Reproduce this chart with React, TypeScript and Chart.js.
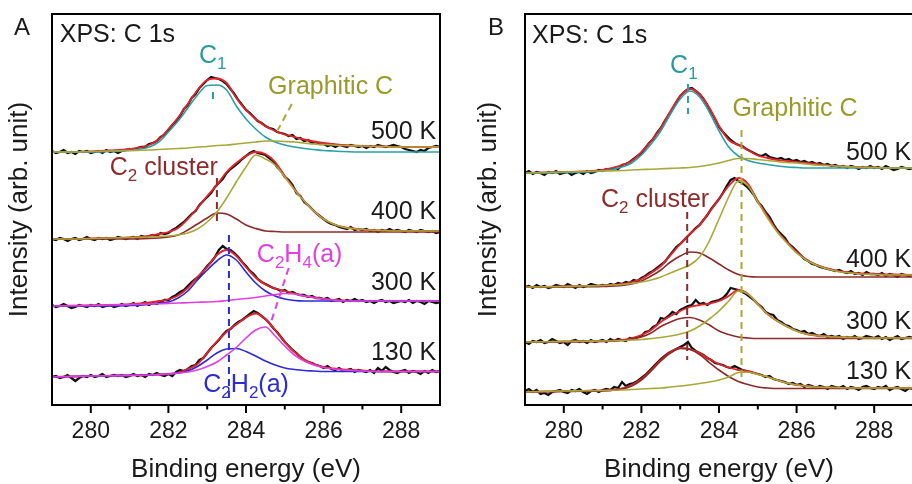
import React, { useEffect, useRef } from "react";
import { Chart, registerables } from "chart.js";

Chart.register(...registerables);

const FONT = '"Liberation Sans", Arial, Helvetica, sans-serif';
const TEXT = "#1a1a1a";
const BLACK = "#111111";
const RED = "#e8222a";
const TEAL = "#2aa0a6";
const TEAL_TEXT = "#2a9a9c";
const OLIVE = "#a8a838";
const OLIVE_TEXT = "#9a9a2c";
const BROWN = "#8e2a2a";
const MAGENTA = "#e23fe2";
const BLUE = "#2b2bd8";

const X_MIN = 279;
const X_MAX = 289;
const Y_MIN = 0;
const Y_MAX = 391;
const X_TITLE = "Binding energy (eV)";
const Y_TITLE = "Intensity (arb. unit)";

// energy grid for fitted curves
const FIT_E = [279, 279.5, 280, 280.5, 281, 281.5, 281.75, 282, 282.25, 282.5, 282.75, 283, 283.25, 283.5, 283.75, 284, 284.25, 284.5, 284.75, 285, 285.25, 285.5, 285.75, 286, 286.25, 286.5, 287, 287.5, 288, 288.5, 289];

// energy grid for measured spectra
const DATA_E = [
  279, 279.1, 279.2, 279.3, 279.4, 279.5, 279.6, 279.7, 279.8, 279.9,
  280, 280.1, 280.2, 280.3, 280.4, 280.5, 280.6, 280.7, 280.8, 280.9,
  281, 281.1, 281.2, 281.3, 281.4, 281.5, 281.6, 281.7, 281.8, 281.9,
  282, 282.1, 282.2, 282.3, 282.4, 282.5, 282.6, 282.7, 282.8, 282.9,
  283, 283.1, 283.2, 283.3, 283.4, 283.5, 283.6, 283.7, 283.8, 283.9,
  284, 284.1, 284.2, 284.3, 284.4, 284.5, 284.6, 284.7, 284.8, 284.9,
  285, 285.1, 285.2, 285.3, 285.4, 285.5, 285.6, 285.7, 285.8, 285.9,
  286, 286.1, 286.2, 286.3, 286.4, 286.5, 286.6, 286.7, 286.8, 286.9,
  287, 287.1, 287.2, 287.3, 287.4, 287.5, 287.6, 287.7, 287.8, 287.9,
  288, 288.1, 288.2, 288.3, 288.4, 288.5, 288.6, 288.7, 288.8, 288.9,
  289,
];

// stacking offsets: 500 K, 400 K, 300 K, 130 K
const A_OFFSETS = [253, 166, 99, 28];
const B_OFFSETS = [232, 118, 63, 13];

// ---------- Panel A ----------
const A500_C1 = [0, 0, 0, 0.5, 1.5, 5, 10, 20, 31, 44, 57, 66.5, 67, 62, 46, 33, 23, 15, 10, 7, 5, 3.5, 2.5, 1.5, 1, 0.5, 0, 0, 0, 0, 0];
const A500_GR = [0, 0, 0.5, 1, 1.5, 2, 2.5, 3, 3.5, 4, 5, 5.5, 6.5, 7, 8, 9, 10, 11, 11, 10.5, 10, 9, 8, 7.5, 7, 6.5, 6, 5.5, 5, 5, 5];
const A500_FIT = [0, 0, 0.5, 1.5, 3, 7, 12.5, 23, 34.5, 48, 62, 72, 73.5, 69, 54, 42, 33, 26, 21, 17.5, 15, 12.5, 10.5, 9, 8, 7, 6, 5.5, 5, 5, 5];
const A500_DATA = [
  1, -1, 0, 2, -1, 0, -2, 1, 0, 1,
  -1, 0, 1, -1, 2, 0, 1, -1, 1, 2,
  3, 2, 4, 5, 5, 8, 9, 11, 15, 17,
  22, 27, 31, 36, 43, 47, 54, 58, 64, 68,
  72, 75, 74, 73, 71, 68, 63, 58, 52, 47,
  42, 39, 35, 31, 29, 26, 24, 23, 20, 19,
  18, 16, 17, 13, 14, 11, 12, 9, 10, 8,
  8, 6, 7, 5, 7, 6, 5, 7, 6, 5,
  6, 4, 6, 5, 7, 6, 5, 6, 7, 6,
  5, 3, 2, 1, 0, 2, 1, 4, 5, 6,
  5,
];

const A400_GR = [0, 0, 0.5, 1, 1.5, 2, 2.5, 3, 4, 6, 10, 17, 27, 41, 57, 72, 84, 80, 74, 62, 49, 38, 28, 20, 15, 12, 9.5, 8.5, 8, 8, 8];
const A400_C2 = [0, 0, 0, 0, 0, 0.5, 1, 2, 4, 9, 15, 21, 26, 25, 20, 14, 10.5, 8, 7.5, 7, 7, 7, 7, 7, 7, 7, 7, 7, 7, 7, 7];
const A400_FIT = [0, 0, 0.5, 1, 1.5, 3, 5, 7, 11, 20, 31, 43, 54, 67, 76, 83, 87, 85, 77, 63, 50, 38, 28, 20, 15, 12, 9.5, 8.5, 8, 8, 8];
const A400_DATA = [
  0, -1, 1, 0, -2, 0, 1, -1, 0, 2,
  0, -1, 1, 0, 1, -1, 0, 2, 1, 0,
  1, 2, 0, 3, 2, 3, 4, 3, 6, 5,
  6, 9, 11, 14, 17, 21, 25, 28, 34, 38,
  42, 46, 52, 56, 60, 66, 70, 73, 76, 80,
  83, 86, 88, 86, 85, 84, 81, 78, 72, 68,
  62, 59, 54, 46, 43, 37, 34, 30, 26, 23,
  20, 17, 15, 14, 12, 11, 10, 12, 9, 10,
  9, 10, 8, 9, 7, 9, 8, 10, 8, 9,
  8, 7, 9, 8, 7, 9, 8, 7, 8, 6,
  7,
];

const A300_C2H2 = [0, 0, 0, 0, 0.5, 1.5, 3, 4, 8, 15, 26, 36, 45, 51, 46, 34, 23, 15, 10, 7, 5.5, 5, 5, 5, 5, 5, 5, 5, 5, 5, 5];
const A300_C2H4 = [0, 0.3, 0.6, 1, 1.4, 2, 2.3, 2.6, 3, 3.3, 3.7, 4, 4.5, 5.5, 6.5, 7.5, 8.5, 10, 11.5, 12.5, 12, 10, 8.5, 7, 6, 5, 5, 5, 5, 5, 5];
const A300_FIT = [0, 0.3, 0.6, 1, 1.8, 3.5, 5, 6.5, 10.5, 18, 29, 39, 51, 56, 50, 39, 28.5, 21.5, 17.5, 15, 12.5, 10, 8.5, 7, 6, 5.5, 5, 5, 5, 5, 5];
const A300_DATA = [
  1, -1, 0, 2, 0, -2, -1, 1, 0, -1,
  1, 0, 2, -1, 0, 1, -1, 0, 2, 0,
  1, 3, 0, 2, 4, 1, 3, 2, 4, 6,
  6, 9, 11, 14, 16, 20, 24, 27, 30, 35,
  40, 44, 49, 56, 60, 57, 56, 53, 49, 44,
  40, 35, 32, 27, 24, 22, 20, 18, 17, 15,
  16, 13, 14, 12, 11, 11, 9, 10, 8, 8,
  7, 8, 5, 6, 7, 4, 6, 5, 7, 5,
  6, 4, 5, 3, 5, 6, 4, 5, 3, 4,
  5, 4, 6, 3, 5, 4, 2, 5, 4, 3,
  4,
];

const A130_C2H2 = [0, 0.5, 1, 1.3, 1.6, 2, 2.5, 3, 4, 6, 10.5, 17, 24, 28, 28.5, 25.5, 21, 16, 12, 9, 7.5, 6.5, 6, 5.5, 5.5, 5.5, 5.5, 5.5, 5.5, 5.5, 5.5];
const A130_C2H4 = [0, 0.5, 1, 1.3, 1.6, 2, 2.5, 3, 4, 5, 7, 10.5, 15, 22, 29.5, 39, 47, 50, 41, 31, 22, 16, 12, 9.5, 8, 7, 6, 5.5, 5.5, 5.5, 5.5];
const A130_FIT = [0, 0.5, 1, 1.3, 1.6, 2, 2.5, 3, 4.5, 8, 13, 24, 35.5, 45, 52.5, 59.5, 63.5, 58, 47, 35, 25, 17.5, 13, 10, 8.5, 7.5, 6.5, 5.5, 5.5, 5.5, 5.5];
const A130_DATA = [
  0, 1, -1, 0, 2, -1, -4, -1, 1, 0,
  2, 0, 1, 3, 0, 1, 2, 1, 2, 0,
  1, 3, 1, 2, 0, 3, 2, 4, 2, 1,
  3, 1, 5, 7, 6, 8, 11, 12, 17, 19,
  24, 29, 33, 37, 42, 46, 48, 52, 55, 57,
  60, 63, 66, 64, 61, 58, 54, 49, 45, 40,
  35, 31, 27, 24, 20, 17, 15, 14, 12, 11,
  9, 11, 8, 7, 9, 6, 7, 8, 5, 7,
  6, 5, 7, 4, 9, 6, 10, 7, 5, 4,
  6, 7, 4, 6, 5, 3, 6, 4, 7, 5,
  6,
];

// ---------- Panel B ----------
const B500_C1 = [0, 0, 0.5, 1, 2, 6, 10, 18, 29, 42, 59, 74, 82, 76, 61, 42, 26, 17, 12.5, 10, 8.5, 7, 6, 5.5, 5, 5, 5, 5, 5, 5, 5];
const B500_GR = [0, 0.5, 1, 1.5, 2, 2.5, 3, 3.5, 3.8, 4.2, 4.6, 5, 5.5, 6.5, 8, 10, 12.5, 14.5, 14.5, 13.5, 12.5, 11.5, 10.5, 10, 9, 8, 7, 6, 5.5, 5, 5];
const B500_FIT = [0, 0.5, 1, 1.5, 3, 8, 12, 21, 32, 45, 62, 77, 84, 79, 65, 47, 33, 28, 23, 17.5, 15, 13, 12, 11, 10, 9, 7, 6, 5.5, 5, 5];
const B500_DATA = [
  0, 2, -1, 1, 0, -2, 1, 0, 2, -1,
  0, 1, -2, 0, 1, -1, 2, 0, 1, 3,
  2, 4, 3, 5, 4, 8, 9, 11, 14, 17,
  20, 25, 30, 34, 40, 45, 52, 58, 64, 71,
  77, 81, 84, 85, 82, 79, 74, 68, 61, 54,
  46, 41, 37, 33, 30, 28, 27, 24, 22, 20,
  18, 17, 19, 16, 15, 14, 15, 13, 14, 12,
  13, 11, 12, 10, 11, 9, 10, 8, 9, 7,
  8, 6, 7, 5, 7, 6, 4, 6, 5, 7,
  5, 6, 4, 7, 5, 3, 4, 6, 5, 4,
  5,
];

const B400_GR = [0, 0.2, 0.5, 1, 1.5, 2.5, 3.5, 5, 7, 10, 14, 18, 22, 30, 46, 68, 90, 106, 101, 85, 69, 55, 44, 34, 27, 22, 16, 13.5, 12.5, 12, 12];
const B400_C2 = [0, 0, 0, 0.2, 0.5, 1.5, 3, 6, 11, 17, 25, 31, 35, 34, 29, 23, 17, 12.5, 10.5, 10, 10, 10, 10, 10, 10, 10, 10, 10, 10, 10, 10];
const B400_FIT = [0, 0.2, 0.5, 1, 1.5, 3, 5, 8, 14, 21, 32, 43, 53, 62, 75, 88, 101, 109, 103, 86, 71, 56, 45, 35, 27.5, 22.5, 16.5, 14, 13, 12.5, 12];
const B400_DATA = [
  0, 1, -1, 2, 0, 1, -1, 0, 2, 1,
  0, 3, 1, -1, 2, 0, 1, 3, 2, 1,
  2, 1, 3, 2, 4, 3, 5, 4, 7, 6,
  9, 11, 14, 16, 19, 22, 25, 30, 35, 40,
  43, 47, 51, 55, 59, 62, 67, 72, 78, 83,
  88, 94, 101, 107, 109, 106, 104, 101, 97, 92,
  85, 81, 75, 70, 63, 57, 53, 49, 43, 40,
  36, 32, 28, 26, 23, 22, 20, 19, 18, 17,
  16, 17, 15, 14, 16, 13, 14, 12, 15, 13,
  13, 12, 14, 11, 13, 12, 10, 13, 12, 11,
  12,
];

const B300_GR = [0, 0.2, 0.5, 0.8, 1, 1.5, 2, 2.5, 3.5, 4.5, 6, 8, 11, 16, 23, 31, 41, 51, 48, 38, 28, 21, 15.5, 11, 8, 6.5, 5, 4.5, 4, 4, 4];
const B300_C2 = [0, 0, 0, 0.2, 0.5, 1.5, 3, 5, 9, 15.5, 20, 23.5, 24.5, 22, 17, 11, 7.5, 5, 4, 3.5, 3.5, 3.5, 3.5, 3.5, 3.5, 3.5, 3.5, 3.5, 3.5, 3.5, 3.5];
const B300_FIT = [0, 0.2, 0.5, 0.8, 1, 2, 4, 7, 12, 20, 26, 31, 35, 37, 38.5, 41, 46, 52, 48, 38, 28, 21, 15.5, 11, 8, 6.5, 5, 4.5, 4, 4, 4];
const B300_DATA = [
  0, -2, 1, 0, 2, -1, 0, 3, 1, -1,
  0, -3, 1, 2, 0, 1, -1, 2, 0, 1,
  2, 0, 3, 1, 3, 2, 1, 4, 3, 5,
  6, 10, 11, 15, 17, 24, 23, 26, 30, 28,
  32, 34, 36, 37, 42, 38, 39, 37, 40, 41,
  42, 44, 48, 54, 53, 52, 50, 48, 45, 42,
  38, 35, 30, 28, 27, 22, 20, 17, 16, 13,
  12, 10, 11, 8, 9, 7, 6, 8, 5, 6,
  5, 6, 3, 5, 4, 6, 3, 4, 6, 5,
  4, 6, 3, 5, 2, 4, 6, 3, 4, 5,
  4,
];

const B130_GR = [0, 0.5, 1, 1.2, 1.5, 2, 2.5, 3, 3.5, 4, 5, 6, 7, 8.5, 10, 12, 15, 19.5, 20, 17.5, 15, 12, 9, 7, 6, 5, 4.5, 4, 4, 4, 4];
const B130_C2 = [0, 0.2, 0.5, 0.8, 1, 3, 6, 12, 21, 31, 39, 43.5, 42.5, 37.5, 29.5, 22, 15.5, 10.5, 7.5, 5, 4, 3.5, 3.5, 3.5, 3.5, 3.5, 3.5, 3.5, 3.5, 3.5, 3.5];
const B130_FIT = [0, 0.5, 1, 1.2, 1.5, 3.5, 7, 13, 22, 32, 40, 44, 43, 39, 33, 28, 24.5, 22, 21, 18, 15, 12, 9, 7, 6, 5, 4.5, 4, 4, 4, 4];
const B130_DATA = [
  1, 3, 0, 2, -2, -1, -3, 0, 1, 2,
  0, -1, 2, 1, 3, 0, -2, 1, 2, 0,
  2, 3, 2, 5, 4, 10, 6, 8, 9, 11,
  14, 17, 21, 25, 29, 33, 36, 39, 41, 43,
  45, 47, 50, 44, 41, 39, 37, 34, 32, 29,
  28, 27, 25, 24, 26, 24, 22, 21, 20, 19,
  18, 17, 15, 16, 13, 12, 11, 10, 8, 9,
  7, 8, 5, 7, 6, 4, 6, 5, 3, 6,
  5, 4, 6, 3, 5, 4, 2, 5, 6, 4,
  3, 5, 4, 6, 2, 4, 5, 3, 1, 4,
  3,
];

// ---------- annotations (data coordinates) ----------
const A_MARKERS = [
  { x: [283.15, 283.15], y: [313, 304], color: TEAL },
  { x: [285.18, 284.82], y: [301, 275], color: OLIVE },
  { x: [283.25, 283.25], y: [227, 182], color: BROWN },
  { x: [283.56, 283.56], y: [170, 5], color: BLUE },
  { x: [285.1, 284.62], y: [137, 80], color: MAGENTA },
];
const B_MARKERS = [
  { x: [283.2, 283.2], y: [321, 291], color: TEAL },
  { x: [284.58, 284.58], y: [275, 25], color: OLIVE },
  { x: [283.18, 283.18], y: [193, 45], color: BROWN },
];

const A_LABELS = [
  { t: "XPS: C 1s", x: 279.2, y: 370, color: TEXT, align: "left" },
  { t: "C_1", x: 282.79, y: 349, color: TEAL_TEXT, align: "left" },
  { t: "Graphitic C", x: 284.57, y: 318, color: OLIVE_TEXT, align: "left" },
  { t: "500 K", x: 287.22, y: 273, color: TEXT, align: "left" },
  { t: "C_2 cluster", x: 280.49, y: 237, color: BROWN, align: "left" },
  { t: "400 K", x: 287.22, y: 193, color: TEXT, align: "left" },
  { t: "C_2H_4(a)", x: 284.28, y: 150, color: MAGENTA, align: "left" },
  { t: "300 K", x: 287.22, y: 122, color: TEXT, align: "left" },
  { t: "C_2H_2(a)", x: 282.9, y: 20, color: BLUE, align: "left" },
  { t: "130 K", x: 287.22, y: 52, color: TEXT, align: "left" },
];
const B_LABELS = [
  { t: "XPS: C 1s", x: 279.18, y: 369, color: TEXT, align: "left" },
  { t: "C_1", x: 282.74, y: 339, color: TEAL_TEXT, align: "left" },
  { t: "Graphitic C", x: 284.35, y: 296, color: OLIVE_TEXT, align: "left" },
  { t: "500 K", x: 287.27, y: 252, color: TEXT, align: "left" },
  { t: "C_2 cluster", x: 280.96, y: 205, color: BROWN, align: "left" },
  { t: "400 K", x: 287.27, y: 145, color: TEXT, align: "left" },
  { t: "300 K", x: 287.27, y: 83, color: TEXT, align: "left" },
  { t: "130 K", x: 287.27, y: 33, color: TEXT, align: "left" },
];

const LABEL_SIZE = 25;
const TITLE_SIZE = 26;
const TICK_SIZE = 23;

const PANEL_A = {
  letter: "A",
  letterX: 22,
  width: 456,
  yWidth: 52,
  padRight: 16,
  titlePad: 7,
  spectra: [
    { off: A_OFFSETS[0], data: A500_DATA, fit: A500_FIT, comps: [{ ys: A500_GR, color: OLIVE }, { ys: A500_C1, color: TEAL }] },
    { off: A_OFFSETS[1], data: A400_DATA, fit: A400_FIT, comps: [{ ys: A400_GR, color: OLIVE }, { ys: A400_C2, color: BROWN }] },
    { off: A_OFFSETS[2], data: A300_DATA, fit: A300_FIT, comps: [{ ys: A300_C2H4, color: MAGENTA }, { ys: A300_C2H2, color: BLUE }] },
    { off: A_OFFSETS[3], data: A130_DATA, fit: A130_FIT, comps: [{ ys: A130_C2H4, color: MAGENTA }, { ys: A130_C2H2, color: BLUE }] },
  ],
  markers: A_MARKERS,
  labels: A_LABELS,
};

const PANEL_B = {
  letter: "B",
  letterX: 40,
  width: 470,
  yWidth: 69,
  padRight: 13,
  titlePad: 20,
  spectra: [
    { off: B_OFFSETS[0], data: B500_DATA, fit: B500_FIT, comps: [{ ys: B500_GR, color: OLIVE }, { ys: B500_C1, color: TEAL }] },
    { off: B_OFFSETS[1], data: B400_DATA, fit: B400_FIT, comps: [{ ys: B400_GR, color: OLIVE }, { ys: B400_C2, color: BROWN }] },
    { off: B_OFFSETS[2], data: B300_DATA, fit: B300_FIT, comps: [{ ys: B300_GR, color: OLIVE }, { ys: B300_C2, color: BROWN }] },
    { off: B_OFFSETS[3], data: B130_DATA, fit: B130_FIT, comps: [{ ys: B130_GR, color: OLIVE }, { ys: B130_C2, color: BROWN }] },
  ],
  markers: B_MARKERS,
  labels: B_LABELS,
};

function pts(xs: number[], ys: number[], off: number) {
  return xs.map((x, i) => ({ x, y: ys[i] + off }));
}

function drawRich(ctx: CanvasRenderingContext2D, text: string, x: number, y: number, align: string, size: number, color: string) {
  const segs: { s: string; sub: boolean }[] = [];
  for (let i = 0; i < text.length; i++) {
    if (text[i] === "_" && i + 1 < text.length) {
      segs.push({ s: text[i + 1], sub: true });
      i++;
    } else {
      const last = segs[segs.length - 1];
      if (last && !last.sub) last.s += text[i];
      else segs.push({ s: text[i], sub: false });
    }
  }
  const subSize = Math.round(size * 0.66);
  let w = 0;
  for (const g of segs) {
    ctx.font = `${g.sub ? subSize : size}px ${FONT}`;
    w += ctx.measureText(g.s).width;
  }
  let cx = align === "right" ? x - w : align === "center" ? x - w / 2 : x;
  ctx.fillStyle = color;
  ctx.textBaseline = "middle";
  ctx.textAlign = "left";
  for (const g of segs) {
    ctx.font = `${g.sub ? subSize : size}px ${FONT}`;
    ctx.fillText(g.s, cx, g.sub ? y + size * 0.33 : y);
    cx += ctx.measureText(g.s).width;
  }
}

function overlay(panel: any) {
  return {
    id: "overlay",
    afterDraw(chart: any) {
      const { ctx, chartArea: ca, scales } = chart;
      const xs = scales.x;
      const ys = scales.y;
      ctx.save();
      ctx.strokeStyle = "#000";
      ctx.lineWidth = 2;
      ctx.strokeRect(ca.left, ca.top, ca.right - ca.left, ca.bottom - ca.top);
      for (const t of xs.ticks) {
        const v = t.value;
        if (v <= xs.min || v >= xs.max) continue;
        const px = xs.getPixelForValue(v);
        const len = v % 2 === 0 ? 8 : 4.5;
        ctx.beginPath();
        ctx.moveTo(px, ca.bottom);
        ctx.lineTo(px, ca.bottom + len);
        ctx.stroke();
      }
      for (const l of panel.labels) {
        drawRich(ctx, l.t, xs.getPixelForValue(l.x), ys.getPixelForValue(l.y), l.align, LABEL_SIZE, l.color);
      }
      drawRich(ctx, panel.letter, panel.letterX, 28, "center", 24, TEXT);
      ctx.restore();
    },
  };
}

function buildConfig(panel: any): any {
  const datasets: any[] = [];
  for (const s of panel.spectra) {
    datasets.push({
      data: pts(DATA_E, s.data, s.off),
      borderColor: BLACK,
      borderWidth: 2.3,
      pointRadius: 0,
      tension: 0,
      order: 3,
    });
    datasets.push({
      data: pts(FIT_E, s.fit, s.off),
      borderColor: RED,
      borderWidth: 1.8,
      pointRadius: 0,
      cubicInterpolationMode: "monotone",
      order: 2,
    });
    for (const c of s.comps) {
      datasets.push({
        data: pts(FIT_E, c.ys, s.off),
        borderColor: c.color,
        borderWidth: 1.6,
        pointRadius: 0,
        cubicInterpolationMode: "monotone",
        order: 1,
      });
    }
  }
  for (const m of panel.markers) {
    datasets.push({
      data: [{ x: m.x[0], y: m.y[0] }, { x: m.x[1], y: m.y[1] }],
      borderColor: m.color,
      borderWidth: 2,
      borderDash: [7, 5],
      pointRadius: 0,
      order: 0,
    });
  }
  return {
    type: "line",
    data: { datasets },
    options: {
      responsive: false,
      animation: false,
      events: [],
      layout: { padding: { left: 0, top: 14, right: panel.padRight, bottom: 0 } },
      plugins: { legend: { display: false }, tooltip: { enabled: false } },
      scales: {
        x: {
          type: "linear",
          min: X_MIN,
          max: X_MAX,
          afterFit: (s: any) => {
            s.height = 79;
          },
          border: { display: true, color: "#000", width: 2 },
          grid: { display: false, drawTicks: false },
          ticks: {
            stepSize: 1,
            autoSkip: false,
            maxRotation: 0,
            padding: 13,
            color: TEXT,
            font: { family: FONT, size: TICK_SIZE, lineHeight: 1.2 },
            callback: (v: any) => (Number(v) % 2 === 0 ? String(v) : ""),
          },
          title: {
            display: true,
            text: X_TITLE,
            color: TEXT,
            font: { family: FONT, size: TITLE_SIZE, lineHeight: 1 },
            padding: { top: 0, bottom: 1 },
          },
        },
        y: {
          type: "linear",
          min: Y_MIN,
          max: Y_MAX,
          afterFit: (s: any) => {
            s.width = panel.yWidth;
          },
          border: { display: true, color: "#000", width: 2 },
          grid: { display: false, drawTicks: false },
          ticks: { display: false },
          title: {
            display: true,
            text: Y_TITLE,
            color: TEXT,
            font: { family: FONT, size: TITLE_SIZE, lineHeight: 1 },
            padding: { top: panel.titlePad, bottom: 0 },
          },
        },
      },
    },
    plugins: [overlay(panel)],
  };
}

function Panel({ panel, left }: { panel: any; left: number }) {
  const ref = useRef<HTMLCanvasElement>(null);
  useEffect(() => {
    const chart = new Chart(ref.current as HTMLCanvasElement, buildConfig(panel));
    return () => chart.destroy();
  }, [panel]);
  return (
    <canvas
      ref={ref}
      width={panel.width}
      height={484}
      style={{ position: "absolute", left, top: 0, width: panel.width, height: 484 }}
    />
  );
}

export default function App() {
  return (
    <div style={{ position: "absolute", left: 0, top: 0, width: 912, height: 484, overflow: "hidden", background: "#fff" }}>
      <Panel panel={PANEL_A} left={0} />
      <Panel panel={PANEL_B} left={456} />
    </div>
  );
}
